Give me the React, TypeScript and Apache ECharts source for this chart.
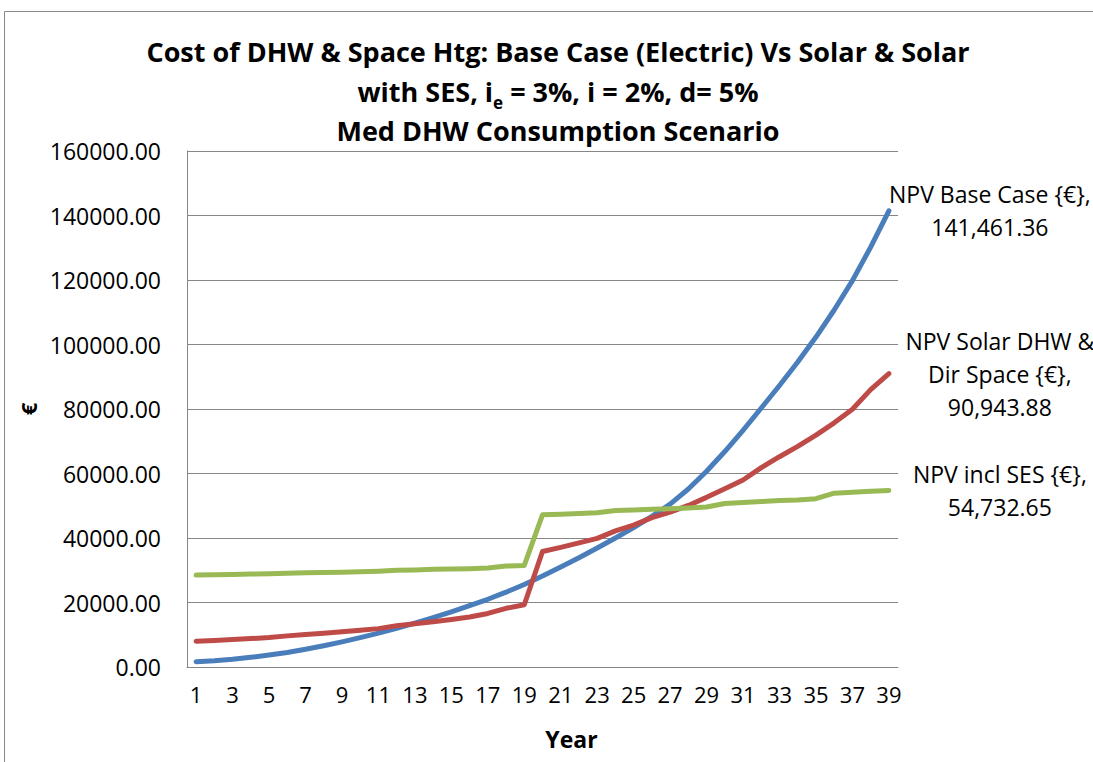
import React, { useEffect, useRef } from "react";
import * as echarts from "echarts";

const years = [
  "1", "2", "3", "4", "5", "6", "7", "8", "9", "10",
  "11", "12", "13", "14", "15", "16", "17", "18", "19", "20",
  "21", "22", "23", "24", "25", "26", "27", "28", "29", "30",
  "31", "32", "33", "34", "35", "36", "37", "38", "39",
];

const baseCase = [
  1650, 1950, 2400, 3000, 3700, 4500, 5500, 6600, 7800, 9100,
  10500, 12000, 13600, 15300, 17100, 19000, 21000, 23200, 25600, 28200,
  31000, 33900, 36900, 40000, 43200, 46700, 50500, 55200, 60700, 66800,
  73400, 80300, 87300, 94600, 102300, 110700, 119800, 130200, 141461.36,
];

const solarDirSpace = [
  8000, 8250, 8500, 8800, 9150, 9650, 10100, 10500, 10900, 11400,
  11900, 12800, 13400, 14000, 14700, 15500, 16600, 18200, 19300, 35800,
  37100, 38500, 39900, 42200, 44000, 46300, 48000, 50100, 52600, 55300,
  58000, 61800, 65200, 68400, 71900, 75700, 79900, 86000, 90943.88,
];

const inclSES = [
  28500, 28600, 28700, 28800, 28900, 29100, 29200, 29300, 29400, 29500,
  29700, 30000, 30100, 30300, 30400, 30500, 30700, 31300, 31500, 47200,
  47400, 47600, 47800, 48500, 48700, 48900, 49100, 49300, 49600, 50700,
  51000, 51300, 51600, 51800, 52200, 53900, 54200, 54500, 54732.65,
];

const seriesNames = ["NPV Base Case {€}", "NPV Solar DHW & Dir Space {€}", "NPV incl SES {€}"];
const labelHeads = ["NPV Base Case {€},", "NPV Solar DHW &\nDir Space {€},", "NPV incl SES {€},"];
const seriesColors = ["#4A7EBB", "#BE4B48", "#98B954"];
const yTicks = { min: 0, max: 160000, interval: 20000 };

const FONT = "'Open Sans', 'Noto Sans', sans-serif";

function fmt(v: number) {
  return v.toLocaleString("en-US", { minimumFractionDigits: 2, maximumFractionDigits: 2 });
}

export default function App() {
  const ref = useRef<HTMLDivElement>(null);
  useEffect(() => {
    if (!ref.current) return;
    const chart = echarts.init(ref.current, null, { renderer: "svg" });
    const datasets = [baseCase, solarDirSpace, inclSES];
    const distances = [101, 111, 111];
    chart.setOption({
      animation: false,
      backgroundColor: "#ffffff",
      textStyle: { fontFamily: FONT },
      title: {
        left: 553,
        top: 27,
        textAlign: "center",
        padding: 5,
        text:
          "{t|Cost of DHW & Space Htg: Base Case (Electric) Vs Solar & Solar}\n" +
          "{t|with SES, i}{s|e}{t| = 3%, i = 2%, d= 5%}\n" +
          "{t|Med DHW Consumption Scenario}",
        textStyle: {
          rich: {
            t: { fontSize: 27, fontWeight: "bold", lineHeight: 39.5, color: "#000", fontFamily: FONT },
            s: { fontSize: 17, fontWeight: "bold", lineHeight: 24, verticalAlign: "bottom", color: "#000", fontFamily: FONT },
          },
        },
      },
      graphic: [
        {
          type: "rect",
          silent: true,
          shape: { x: 4.5, y: 11.5, width: 1300, height: 1000 },
          style: { fill: "none", stroke: "#8a8a8a", lineWidth: 1 },
        },
      ],
      grid: { left: 187, right: 195, top: 151, bottom: 95, outerBoundsMode: "none", containLabel: false },
      xAxis: {
        type: "category",
        data: years,
        boundaryGap: true,
        name: "Year",
        nameLocation: "middle",
        nameGap: 60,
        nameTextStyle: { fontSize: 23, fontWeight: "bold", color: "#000", padding: [0, 0, 0, 58], fontFamily: FONT },
        axisLine: { lineStyle: { color: "#868686", width: 1 } },
        axisTick: { show: false },
        axisLabel: { interval: 1, fontSize: 22, color: "#000", margin: 16, fontFamily: FONT },
        splitLine: { show: false },
      },
      yAxis: {
        type: "value",
        min: yTicks.min,
        max: yTicks.max,
        interval: yTicks.interval,
        name: "€",
        nameLocation: "middle",
        nameRotate: 90,
        nameGap: 146,
        nameTextStyle: { fontSize: 22, fontWeight: "bold", color: "#000", fontFamily: FONT },
        axisLine: { show: true, lineStyle: { color: "#868686", width: 1 } },
        axisTick: { show: false },
        axisLabel: {
          fontSize: 23,
          color: "#000",
          margin: 26,
          fontFamily: FONT,
          formatter: (v: number) => v.toFixed(2),
        },
        splitLine: { show: true, lineStyle: { color: "#868686", width: 1 } },
      },
      series: datasets.map((d, i) => ({
        name: seriesNames[i],
        type: "line",
        data: d,
        showSymbol: false,
        symbol: "none",
        lineStyle: { color: seriesColors[i], width: 5, cap: "round", join: "round" },
        itemStyle: { color: seriesColors[i] },
        endLabel: {
          show: true,
          align: "center",
          verticalAlign: "middle",
          distance: distances[i],
          fontSize: 23,
          lineHeight: 33,
          color: "#000",
          fontFamily: FONT,
          formatter: (p: any) => `${labelHeads[i]}\n${fmt(p.value)}`,
        },
      })),
    });
    return () => chart.dispose();
  }, []);
  return <div ref={ref} style={{ position: "absolute", left: 0, top: 0, width: 1093, height: 762 }} />;
}
